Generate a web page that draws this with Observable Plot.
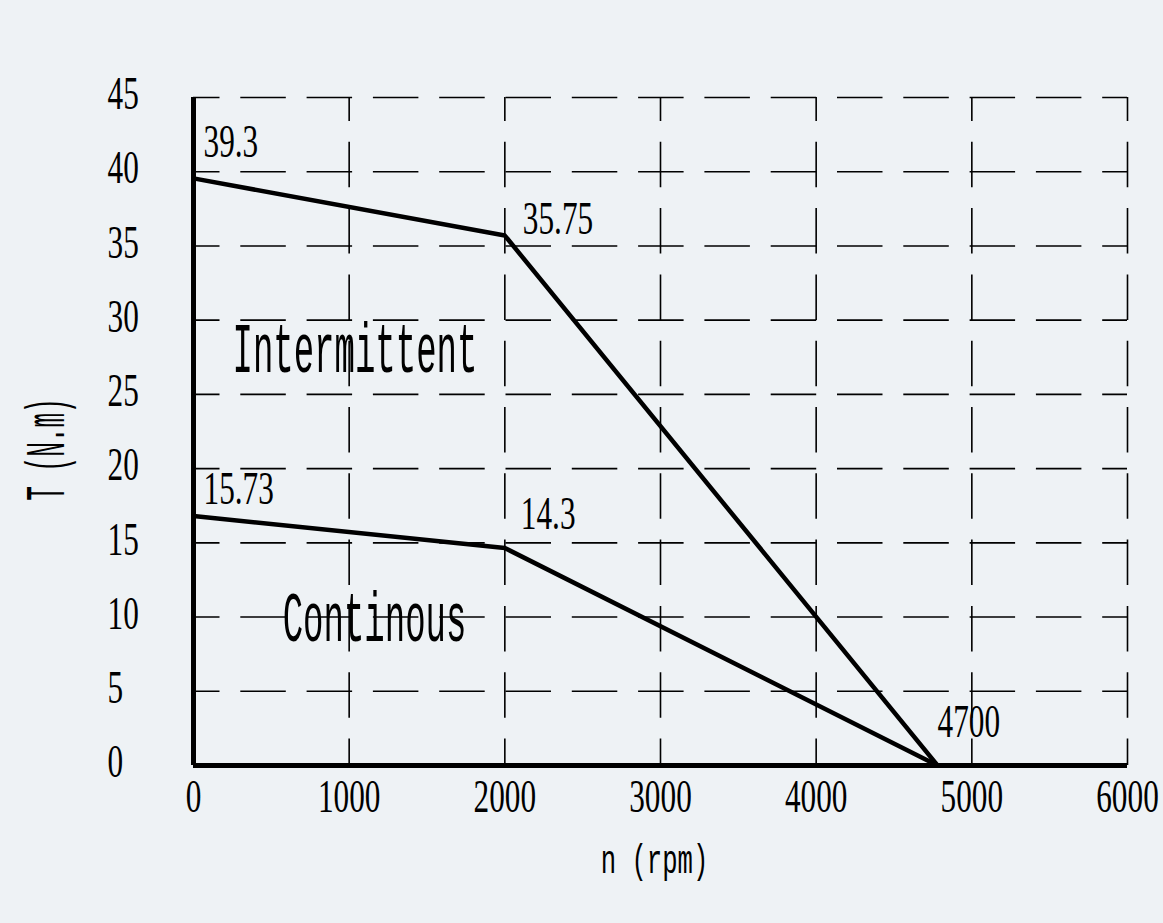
<!DOCTYPE html>
<html>
<head>
<meta charset="utf-8">
<script src="https://cdn.jsdelivr.net/npm/d3@7"></script>
<script src="https://cdn.jsdelivr.net/npm/@observablehq/plot@0.6"></script>
<style>
  html, body { margin: 0; padding: 0; background: #eef2f5; }
  #chart svg { display: block; }
</style>
</head>
<body>
<div id="chart"></div>
<script>
// ---- data ----
const rpm = [0, 2000, 4780];
const intermittent = [39.55, 35.7, 0];
const continuous = [16.8, 14.65, 0];
const intermittentLabels = ["39.3", "35.75", "4700"];
const continuousLabels = ["15.73", "14.3"];
const regionNames = ["Intermittent", "Continous"];
const regionX = [1037, 1163];
const regionY = [26.5, 8.4];
const xTicks = [0, 1000, 2000, 3000, 4000, 5000, 6000];
const yTicks = [0, 5, 10, 15, 20, 25, 30, 35, 40, 45];
const xTitle = "n (rpm)";
const yTitle = "T (N.m)";

// ---- tables ----
const curves = [
  ...rpm.map((x, i) => ({series: "Intermittent", x, y: intermittent[i]})),
  ...rpm.map((x, i) => ({series: "Continuous", x, y: continuous[i]}))
];
const pt = (arr, i, text) => [{x: rpm[i], y: arr[i], text}];
const regions = regionNames.map((t, i) => ({x: regionX[i], y: regionY[i], text: t}));
const xMin = xTicks[0], xMax = xTicks[xTicks.length - 1];
const yMin = yTicks[0], yMax = yTicks[yTicks.length - 1];

const SERIF = '"Liberation Serif", "Times New Roman", "DejaVu Serif", serif';
const MONO = '"Liberation Mono", "Courier New", "DejaVu Sans Mono", monospace';

const numStyle = {x: "x", y: "y", text: "text", textAnchor: "start", lineAnchor: "bottom",
  fontSize: 46, fontFamily: SERIF};
const dash = {stroke: "#000", strokeWidth: 1.6, strokeDasharray: "45.5,20.8", strokeDashoffset: 19};

const svg = Plot.plot({
  width: 1163,
  height: 923,
  marginTop: 97,
  marginBottom: 158,
  marginLeft: 193,
  marginRight: 36,
  style: {background: "#eef2f5", fontFamily: SERIF, color: "#000"},
  x: {domain: [xMin, xMax], label: null},
  y: {domain: [yMin, yMax], label: null},
  marks: [
    Plot.ruleY(yTicks.filter(d => d > yMin), {y: d => d, x1: () => xMin, x2: () => xMax, ...dash}),
    Plot.ruleX(xTicks.filter(d => d > xMin), {x: d => d, y1: () => yMin, y2: () => yMax, ...dash}),
    Plot.ruleY([yMin], {stroke: "#000", strokeWidth: 5}),
    Plot.ruleX([xMin], {stroke: "#000", strokeWidth: 5}),
    Plot.line(curves, {x: "x", y: "y", z: "series", stroke: "#000", strokeWidth: 4.5}),
    Plot.axisY({ticks: yTicks, tickSize: 0, tickPadding: 0, textAnchor: "start", dx: -86, dy: -3,
      tickFormat: "d", fontSize: 46, fontFamily: SERIF, label: null}),
    Plot.axisX({ticks: xTicks, tickSize: 0, tickPadding: 0, dy: 14,
      tickFormat: "d", fontSize: 46, fontFamily: SERIF, label: null}),
    Plot.text(pt(intermittent, 0, intermittentLabels[0]), {...numStyle, dx: 10, dy: -21}),
    Plot.text(pt(intermittent, 1, intermittentLabels[1]), {...numStyle, dx: 18, dy: -2}),
    Plot.text(pt(intermittent, 2, intermittentLabels[2]), {...numStyle, dx: 0, dy: -29}),
    Plot.text(pt(continuous, 0, continuousLabels[0]), {...numStyle, dx: 10, dy: -12}),
    Plot.text(pt(continuous, 1, continuousLabels[1]), {...numStyle, dx: 16, dy: -19}),
    Plot.text(regions, {x: "x", y: "y", text: "text", textAnchor: "middle", lineAnchor: "bottom",
      fontSize: 70, fontFamily: MONO}),
    Plot.text([xTitle], {text: d => d, frameAnchor: "bottom", lineAnchor: "bottom", textAnchor: "middle",
      dx: -6, dy: 107, fontSize: 40, fontFamily: MONO}),
    Plot.text([yTitle], {text: d => d, frameAnchor: "left", rotate: -90, lineAnchor: "bottom", textAnchor: "middle",
      dx: -130, dy: 18, fontSize: 56, fontFamily: MONO})
  ]
});

// condense glyphs horizontally (the original uses a narrow CJK-style serif), keyed by font size
const condense = {"46": 0.68, "70": 0.486, "40": 0.64, "56": 0.435};
svg.querySelectorAll("text").forEach(t => {
  const holder = t.closest("[font-size]");
  const s = holder ? condense[String(parseFloat(holder.getAttribute("font-size")))] : null;
  if (!s) return;
  let tr = t.getAttribute("transform") || "";
  const x = t.getAttribute("x");
  if (x != null && !isNaN(+x)) { tr += ` translate(${+x},0)`; t.removeAttribute("x"); }
  t.setAttribute("transform", tr + ` scale(${s},1)`);
});

document.getElementById("chart").appendChild(svg);
</script>
</body>
</html>
